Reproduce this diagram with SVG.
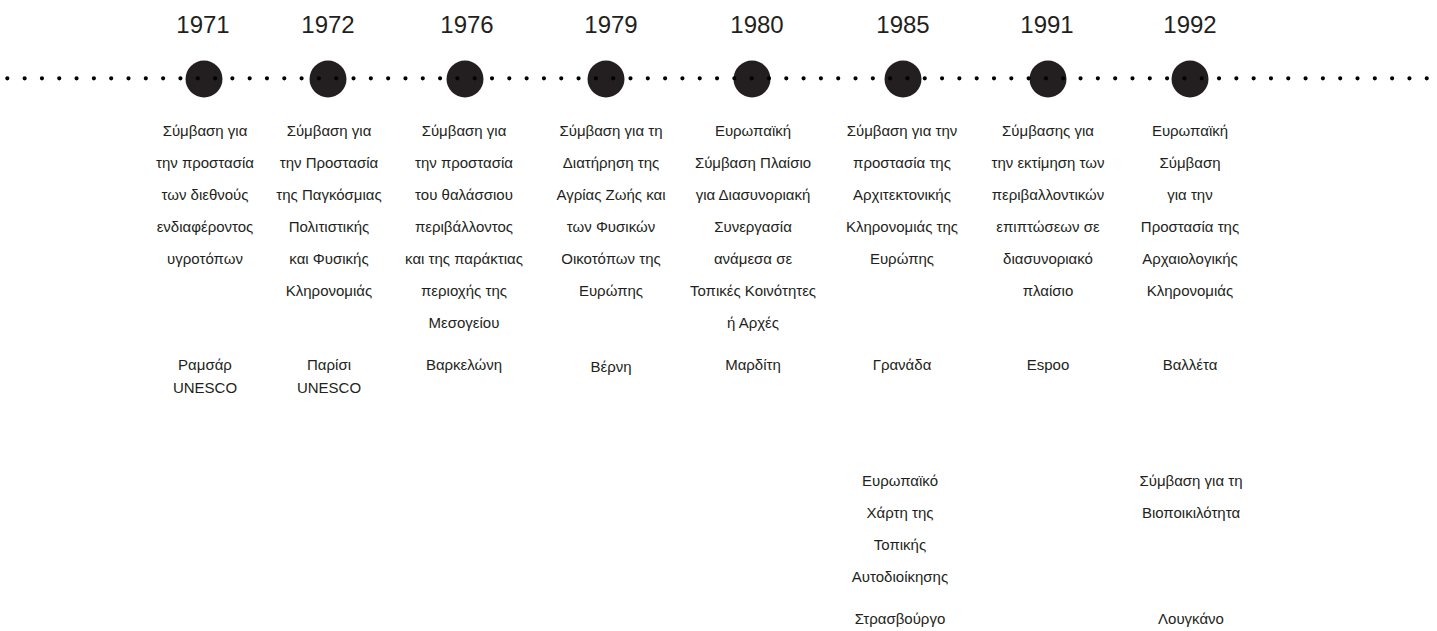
<svg xmlns="http://www.w3.org/2000/svg" width="1437" height="631" viewBox="0 0 1437 631">
<style>
.yr{font-family:"Liberation Sans",Arial,sans-serif;font-size:24px;fill:#231f20;text-anchor:middle}
.t{font-family:"Liberation Sans",Arial,sans-serif;font-size:15px;fill:#231f20;text-anchor:middle}
.c{fill:#231f20}
</style>
<rect width="1437" height="631" fill="#fff"/>
<g id="n1971">
<text class="yr" x="203" y="33">1971</text>
<circle class="c" cx="204" cy="79" r="18.5"/>
<text class="t"><tspan x="205" y="136">Σύμβαση για</tspan><tspan x="205" y="168">την προστασία</tspan><tspan x="205" y="200">των διεθνούς</tspan><tspan x="205" y="232">ενδιαφέροντος</tspan><tspan x="205" y="264">υγροτόπων</tspan></text>
<text class="t"><tspan x="205" y="370">Ραμσάρ</tspan><tspan x="205" y="393">UNESCO</tspan></text>
</g>
<g id="n1972">
<text class="yr" x="328" y="33">1972</text>
<circle class="c" cx="328" cy="79" r="18.5"/>
<text class="t"><tspan x="329" y="136">Σύμβαση για</tspan><tspan x="329" y="168">την Προστασία</tspan><tspan x="329" y="200">της Παγκόσμιας</tspan><tspan x="329" y="232">Πολιτιστικής</tspan><tspan x="329" y="264">και Φυσικής</tspan><tspan x="329" y="296">Κληρονομιάς</tspan></text>
<text class="t"><tspan x="329" y="370">Παρίσι</tspan><tspan x="329" y="393">UNESCO</tspan></text>
</g>
<g id="n1976">
<text class="yr" x="467" y="33">1976</text>
<circle class="c" cx="465" cy="79" r="18.5"/>
<text class="t"><tspan x="464" y="136">Σύμβαση για</tspan><tspan x="464" y="168">την προστασία</tspan><tspan x="464" y="200">του θαλάσσιου</tspan><tspan x="464" y="232">περιβάλλοντος</tspan><tspan x="464" y="264">και της παράκτιας</tspan><tspan x="464" y="296">περιοχής της</tspan><tspan x="464" y="328">Μεσογείου</tspan></text>
<text class="t" x="464" y="370">Βαρκελώνη</text>
</g>
<g id="n1979">
<text class="yr" x="611" y="33">1979</text>
<circle class="c" cx="606" cy="79" r="18.5"/>
<text class="t"><tspan x="611" y="136">Σύμβαση για τη</tspan><tspan x="611" y="168">Διατήρηση της</tspan><tspan x="611" y="200">Αγρίας Ζωής και</tspan><tspan x="611" y="232">των Φυσικών</tspan><tspan x="611" y="264">Οικοτόπων της</tspan><tspan x="611" y="296">Ευρώπης</tspan></text>
<text class="t" x="611" y="372">Βέρνη</text>
</g>
<g id="n1980">
<text class="yr" x="757" y="33">1980</text>
<circle class="c" cx="752" cy="79" r="18.5"/>
<text class="t"><tspan x="753" y="136">Ευρωπαϊκή</tspan><tspan x="753" y="168">Σύμβαση Πλαίσιο</tspan><tspan x="753" y="200">για Διασυνοριακή</tspan><tspan x="753" y="232">Συνεργασία</tspan><tspan x="753" y="264">ανάμεσα σε</tspan><tspan x="753" y="296">Τοπικές Κοινότητες</tspan><tspan x="753" y="328">ή Αρχές</tspan></text>
<text class="t" x="753" y="370">Μαρδίτη</text>
</g>
<g id="n1985">
<text class="yr" x="903" y="33">1985</text>
<circle class="c" cx="903" cy="79" r="18.5"/>
<text class="t"><tspan x="902" y="136">Σύμβαση για την</tspan><tspan x="902" y="168">προστασία της</tspan><tspan x="902" y="200">Αρχιτεκτονικής</tspan><tspan x="902" y="232">Κληρονομιάς της</tspan><tspan x="902" y="264">Ευρώπης</tspan></text>
<text class="t" x="902" y="370">Γρανάδα</text>
<text class="t"><tspan x="900" y="486">Ευρωπαϊκό</tspan><tspan x="900" y="518">Χάρτη της</tspan><tspan x="900" y="550">Τοπικής</tspan><tspan x="900" y="582">Αυτοδιοίκησης</tspan></text>
<text class="t" x="900" y="624">Στρασβούργο</text>
</g>
<g id="n1991">
<text class="yr" x="1047" y="33">1991</text>
<circle class="c" cx="1048" cy="79" r="18.5"/>
<text class="t"><tspan x="1048" y="136">Σύμβασης για</tspan><tspan x="1048" y="168">την εκτίμηση των</tspan><tspan x="1048" y="200">περιβαλλοντικών</tspan><tspan x="1048" y="232">επιπτώσεων σε</tspan><tspan x="1048" y="264">διασυνοριακό</tspan><tspan x="1048" y="296">πλαίσιο</tspan></text>
<text class="t" x="1048" y="370">Espoo</text>
</g>
<g id="n1992">
<text class="yr" x="1190" y="33">1992</text>
<circle class="c" cx="1190" cy="79" r="18.5"/>
<text class="t"><tspan x="1190" y="136">Ευρωπαϊκή</tspan><tspan x="1190" y="168">Σύμβαση</tspan><tspan x="1190" y="200">για την</tspan><tspan x="1190" y="232">Προστασία της</tspan><tspan x="1190" y="264">Αρχαιολογικής</tspan><tspan x="1190" y="296">Κληρονομιάς</tspan></text>
<text class="t" x="1190" y="370">Βαλλέτα</text>
<text class="t"><tspan x="1191" y="486">Σύμβαση για τη</tspan><tspan x="1191" y="518">Βιοποικιλότητα</tspan></text>
<text class="t" x="1191" y="624">Λουγκάνο</text>
</g>
<g id="connectors">
<line x1="7.33" y1="78.3" x2="1427" y2="78.3" stroke="#000" stroke-width="4.2" stroke-linecap="round" stroke-dasharray="0 17.31"/>
</g>
</svg>
